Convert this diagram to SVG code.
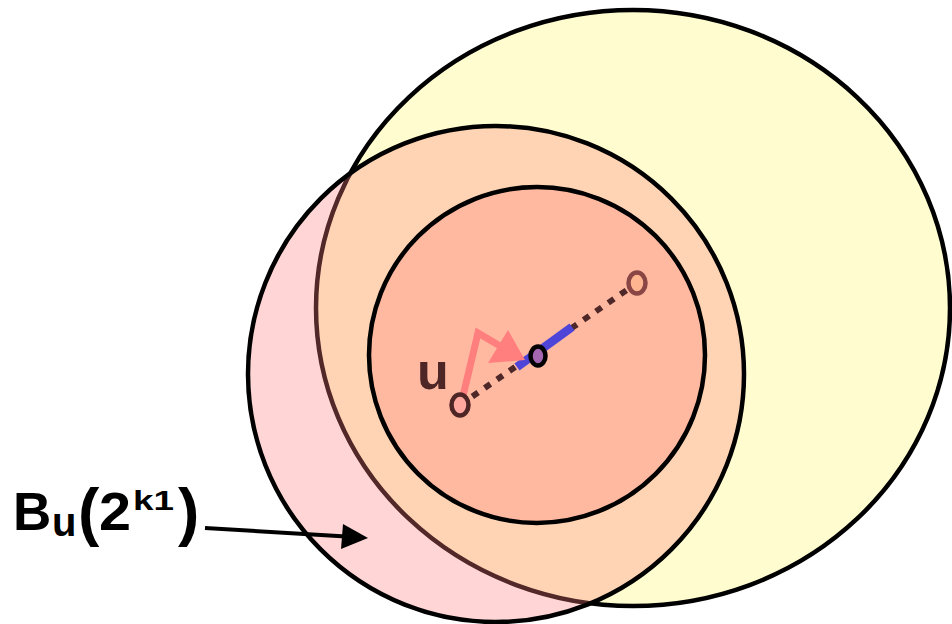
<svg xmlns="http://www.w3.org/2000/svg" width="952" height="624" viewBox="0 0 952 624">
<style>
.lbl{font-family:"Liberation Sans",Arial,sans-serif;font-weight:bold;fill:#000}
.ring{stroke-width:4.5}
</style>
<defs>
<clipPath id="pinkClip"><circle cx="496" cy="374" r="248"/></clipPath>
</defs>
<rect width="952" height="624" fill="#fff"/>
<g id="ballLarge">
<ellipse cx="633" cy="308" rx="317" ry="298" fill="#FFFDD0" stroke="#000" stroke-width="4.5"/>
</g>
<g id="ballBu">
<circle cx="496" cy="374" r="248" fill="#FFD5D5"/>
<g clip-path="url(#pinkClip)">
<ellipse cx="633" cy="308" rx="317" ry="298" fill="#FFD4B4" stroke="#522828" stroke-width="4.5"/>
</g>
<circle cx="496" cy="374" r="248" fill="none" stroke="#000" stroke-width="4.5"/>
</g>
<g id="ballInner">
<circle cx="537" cy="355" r="168" fill="#FFB9A0" stroke="#000" stroke-width="4.5"/>
</g>
<g id="connectors">
<line x1="460" y1="405" x2="637" y2="283" stroke="#4E2828" stroke-width="6" stroke-dasharray="7 8"/>
<line x1="517" y1="367" x2="572" y2="327" stroke="#4E45D8" stroke-width="8.5"/>
<polyline points="463,396 478,333 500,346" fill="none" stroke="#FF7F7F" stroke-width="7"/>
<polygon points="508,330 525,360 488,363" fill="#FF7F7F"/>
<line x1="205" y1="528" x2="346" y2="536.5" stroke="#000" stroke-width="4"/>
<polygon points="343,524 368,538 341,549" fill="#000"/>
</g>
<g id="pointU">
<ellipse class="ring" cx="460" cy="405" rx="8.5" ry="10.5" fill="#FFA8A0" stroke="#4E2626"/>
<text x="417" y="389" font-family="Liberation Sans,Arial,sans-serif" font-weight="bold" font-size="52" fill="#4E2626">u</text>
</g>
<g id="pointCenter">
<ellipse class="ring" cx="538" cy="356" rx="7.5" ry="9.5" fill="#A267B0" stroke="#000"/>
</g>
<g id="pointFar">
<ellipse class="ring" cx="637" cy="283" rx="8.5" ry="10.5" fill="#FFB590" stroke="#8A4545"/>
</g>
<g id="label">
<text class="lbl" x="13" y="530" font-size="53">B</text>
<text class="lbl" x="52" y="536" font-size="40">u</text>
<text class="lbl" x="78" y="534" font-size="64">(</text>
<text class="lbl" x="99" y="530" font-size="53" textLength="32" lengthAdjust="spacingAndGlyphs">2</text>
<text class="lbl" x="133" y="510" font-size="28" textLength="41" lengthAdjust="spacingAndGlyphs">k1</text>
<text class="lbl" x="178" y="534" font-size="64">)</text>
</g>
</svg>
